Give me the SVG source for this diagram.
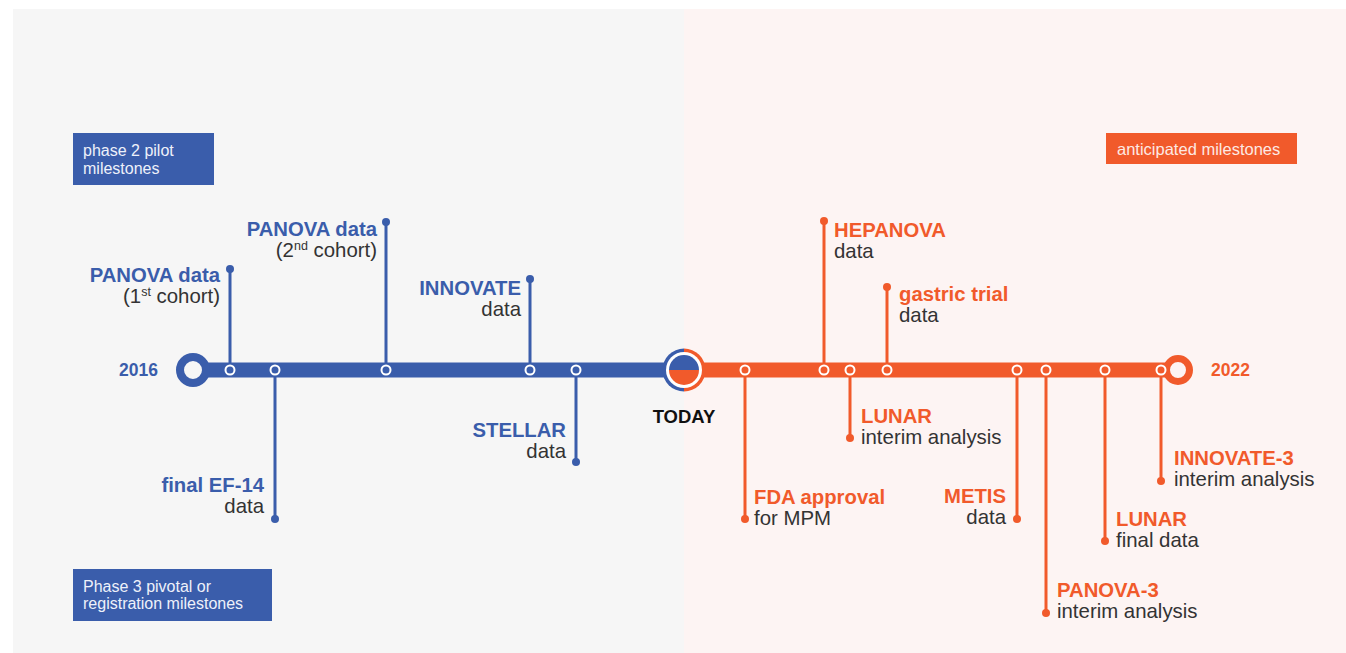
<svg xmlns="http://www.w3.org/2000/svg" width="1346" height="653" viewBox="0 0 1346 653">
<style>
text{font-family:"Liberation Sans",Arial,sans-serif}
.t{font-size:20.3px;font-weight:bold}
.b{fill:#3a5dab}
.o{fill:#f15a2b}
.s{font-size:20.4px;fill:#333}
.lg{font-size:16px;fill:#eef1fa}
.lb{stroke:#3a5dab;stroke-width:3}
.lo{stroke:#f15a2b;stroke-width:3}
.kb{fill:#3a5dab;stroke:#fff;stroke-width:2}
.ko{fill:#f15a2b;stroke:#fff;stroke-width:2}
.yr{font-size:17.5px;font-weight:bold}
</style>
<rect x="0" y="0" width="1346" height="653" fill="#fff"/>
<rect x="13" y="9" width="671" height="644" fill="#f6f6f6"/>
<rect x="684" y="9" width="662" height="644" fill="#fdf4f3"/>

<g id="legend-phase2">
<rect x="73" y="133" width="141" height="52" fill="#3a5dab"/>
<text class="lg" x="83" y="156">phase 2 pilot</text>
<text class="lg" x="83" y="174">milestones</text>
</g>
<g id="legend-phase3">
<rect x="73" y="569" width="199" height="52" fill="#3a5dab"/>
<text class="lg" x="83" y="592">Phase 3 pivotal or</text>
<text class="lg" x="83" y="609">registration milestones</text>
</g>
<g id="legend-anticipated">
<rect x="1106" y="133" width="191" height="31" fill="#f15a2b"/>
<text class="lg" x="1117" y="155" style="fill:#fde9e3;font-size:16.5px">anticipated milestones</text>
</g>

<g id="connectors">
<line class="lb" x1="230" y1="370" x2="230" y2="269"/>
<line class="lb" x1="275" y1="370" x2="275" y2="519"/>
<line class="lb" x1="386" y1="370" x2="386" y2="222"/>
<line class="lb" x1="530" y1="370" x2="530" y2="279"/>
<line class="lb" x1="576" y1="370" x2="576" y2="462"/>
<line class="lo" x1="745" y1="370" x2="745" y2="519"/>
<line class="lo" x1="824" y1="370" x2="824" y2="221"/>
<line class="lo" x1="850" y1="370" x2="850" y2="438"/>
<line class="lo" x1="887" y1="370" x2="887" y2="287"/>
<line class="lo" x1="1017" y1="370" x2="1017" y2="519"/>
<line class="lo" x1="1046" y1="370" x2="1046" y2="613"/>
<line class="lo" x1="1105" y1="370" x2="1105" y2="541"/>
<line class="lo" x1="1161" y1="370" x2="1161" y2="481"/>
<g class="b">
<circle cx="230" cy="269" r="4"/><circle cx="275" cy="519" r="4"/><circle cx="386" cy="222" r="4"/><circle cx="530" cy="279" r="4"/><circle cx="576" cy="462" r="4"/>
</g>
<g class="o">
<circle cx="745" cy="519" r="4"/><circle cx="824" cy="221" r="4"/><circle cx="850" cy="438" r="4"/><circle cx="887" cy="287" r="4"/><circle cx="1017" cy="519" r="4"/><circle cx="1046" cy="613" r="4"/><circle cx="1105" cy="541" r="4"/><circle cx="1161" cy="481" r="4"/>
</g>
</g>

<g id="timeline">
<rect x="193" y="362.5" width="491" height="15" fill="#3a5dab"/>
<rect x="684" y="362.5" width="494" height="15" fill="#f15a2b"/>
<circle cx="193" cy="370" r="13" fill="#f6f6f6" stroke="#3a5dab" stroke-width="8"/>
<circle cx="1178" cy="370" r="11.5" fill="#fdf4f3" stroke="#f15a2b" stroke-width="7"/>
<g id="today-marker">
<path d="M684,348.5 A21.5,21.5 0 0 0 684,391.5 Z" fill="#3a5dab"/>
<path d="M684,348.5 A21.5,21.5 0 0 1 684,391.5 Z" fill="#f15a2b"/>
<circle cx="684" cy="370" r="18" fill="#fff"/>
<path d="M669,370 A15,15 0 0 1 699,370 Z" fill="#3a5dab"/>
<path d="M669,370 A15,15 0 0 0 699,370 Z" fill="#f15a2b"/>
</g>
<circle class="kb" cx="230" cy="370" r="4.5"/>
<circle class="kb" cx="275" cy="370" r="4.5"/>
<circle class="kb" cx="386" cy="370" r="4.5"/>
<circle class="kb" cx="530" cy="370" r="4.5"/>
<circle class="kb" cx="576" cy="370" r="4.5"/>
<circle class="ko" cx="745" cy="370" r="4.5"/>
<circle class="ko" cx="824" cy="370" r="4.5"/>
<circle class="ko" cx="850" cy="370" r="4.5"/>
<circle class="ko" cx="887" cy="370" r="4.5"/>
<circle class="ko" cx="1017" cy="370" r="4.5"/>
<circle class="ko" cx="1046" cy="370" r="4.5"/>
<circle class="ko" cx="1105" cy="370" r="4.5"/>
<circle class="ko" cx="1161" cy="370" r="4.5"/>
<text class="yr b" x="158" y="376" text-anchor="end">2016</text>
<text class="yr o" x="1211" y="376">2022</text>
<text x="684" y="423" text-anchor="middle" font-size="18.5" font-weight="bold" fill="#111">TODAY</text>
</g>

<g id="m-panova1" text-anchor="end">
<text class="t b" x="220" y="282">PANOVA data</text>
<text class="s" x="220" y="303">(1<tspan font-size="12.5" dy="-7">st</tspan><tspan dy="7"> cohort)</tspan></text>
</g>
<g id="m-ef14" text-anchor="end">
<text class="t b" x="264" y="492">final EF-14</text>
<text class="s" x="264" y="513">data</text>
</g>
<g id="m-panova2" text-anchor="end">
<text class="t b" x="377" y="236">PANOVA data</text>
<text class="s" x="377" y="257">(2<tspan font-size="12.5" dy="-7">nd</tspan><tspan dy="7"> cohort)</tspan></text>
</g>
<g id="m-innovate" text-anchor="end">
<text class="t b" x="521" y="295">INNOVATE</text>
<text class="s" x="521" y="316">data</text>
</g>
<g id="m-stellar" text-anchor="end">
<text class="t b" x="566" y="437">STELLAR</text>
<text class="s" x="566" y="458">data</text>
</g>
<g id="m-fda">
<text class="t o" x="754" y="504">FDA approval</text>
<text class="s" x="754" y="525">for MPM</text>
</g>
<g id="m-hepanova">
<text class="t o" x="834" y="237">HEPANOVA</text>
<text class="s" x="834" y="258">data</text>
</g>
<g id="m-lunar-interim">
<text class="t o" x="861" y="423">LUNAR</text>
<text class="s" x="861" y="444">interim analysis</text>
</g>
<g id="m-gastric">
<text class="t o" x="899" y="301">gastric trial</text>
<text class="s" x="899" y="322">data</text>
</g>
<g id="m-metis" text-anchor="end">
<text class="t o" x="1006" y="503">METIS</text>
<text class="s" x="1006" y="524">data</text>
</g>
<g id="m-panova3">
<text class="t o" x="1057" y="597">PANOVA-3</text>
<text class="s" x="1057" y="618">interim analysis</text>
</g>
<g id="m-lunar-final">
<text class="t o" x="1116" y="526">LUNAR</text>
<text class="s" x="1116" y="547">final data</text>
</g>
<g id="m-innovate3">
<text class="t o" x="1174" y="465">INNOVATE-3</text>
<text class="s" x="1174" y="486">interim analysis</text>
</g>
</svg>
